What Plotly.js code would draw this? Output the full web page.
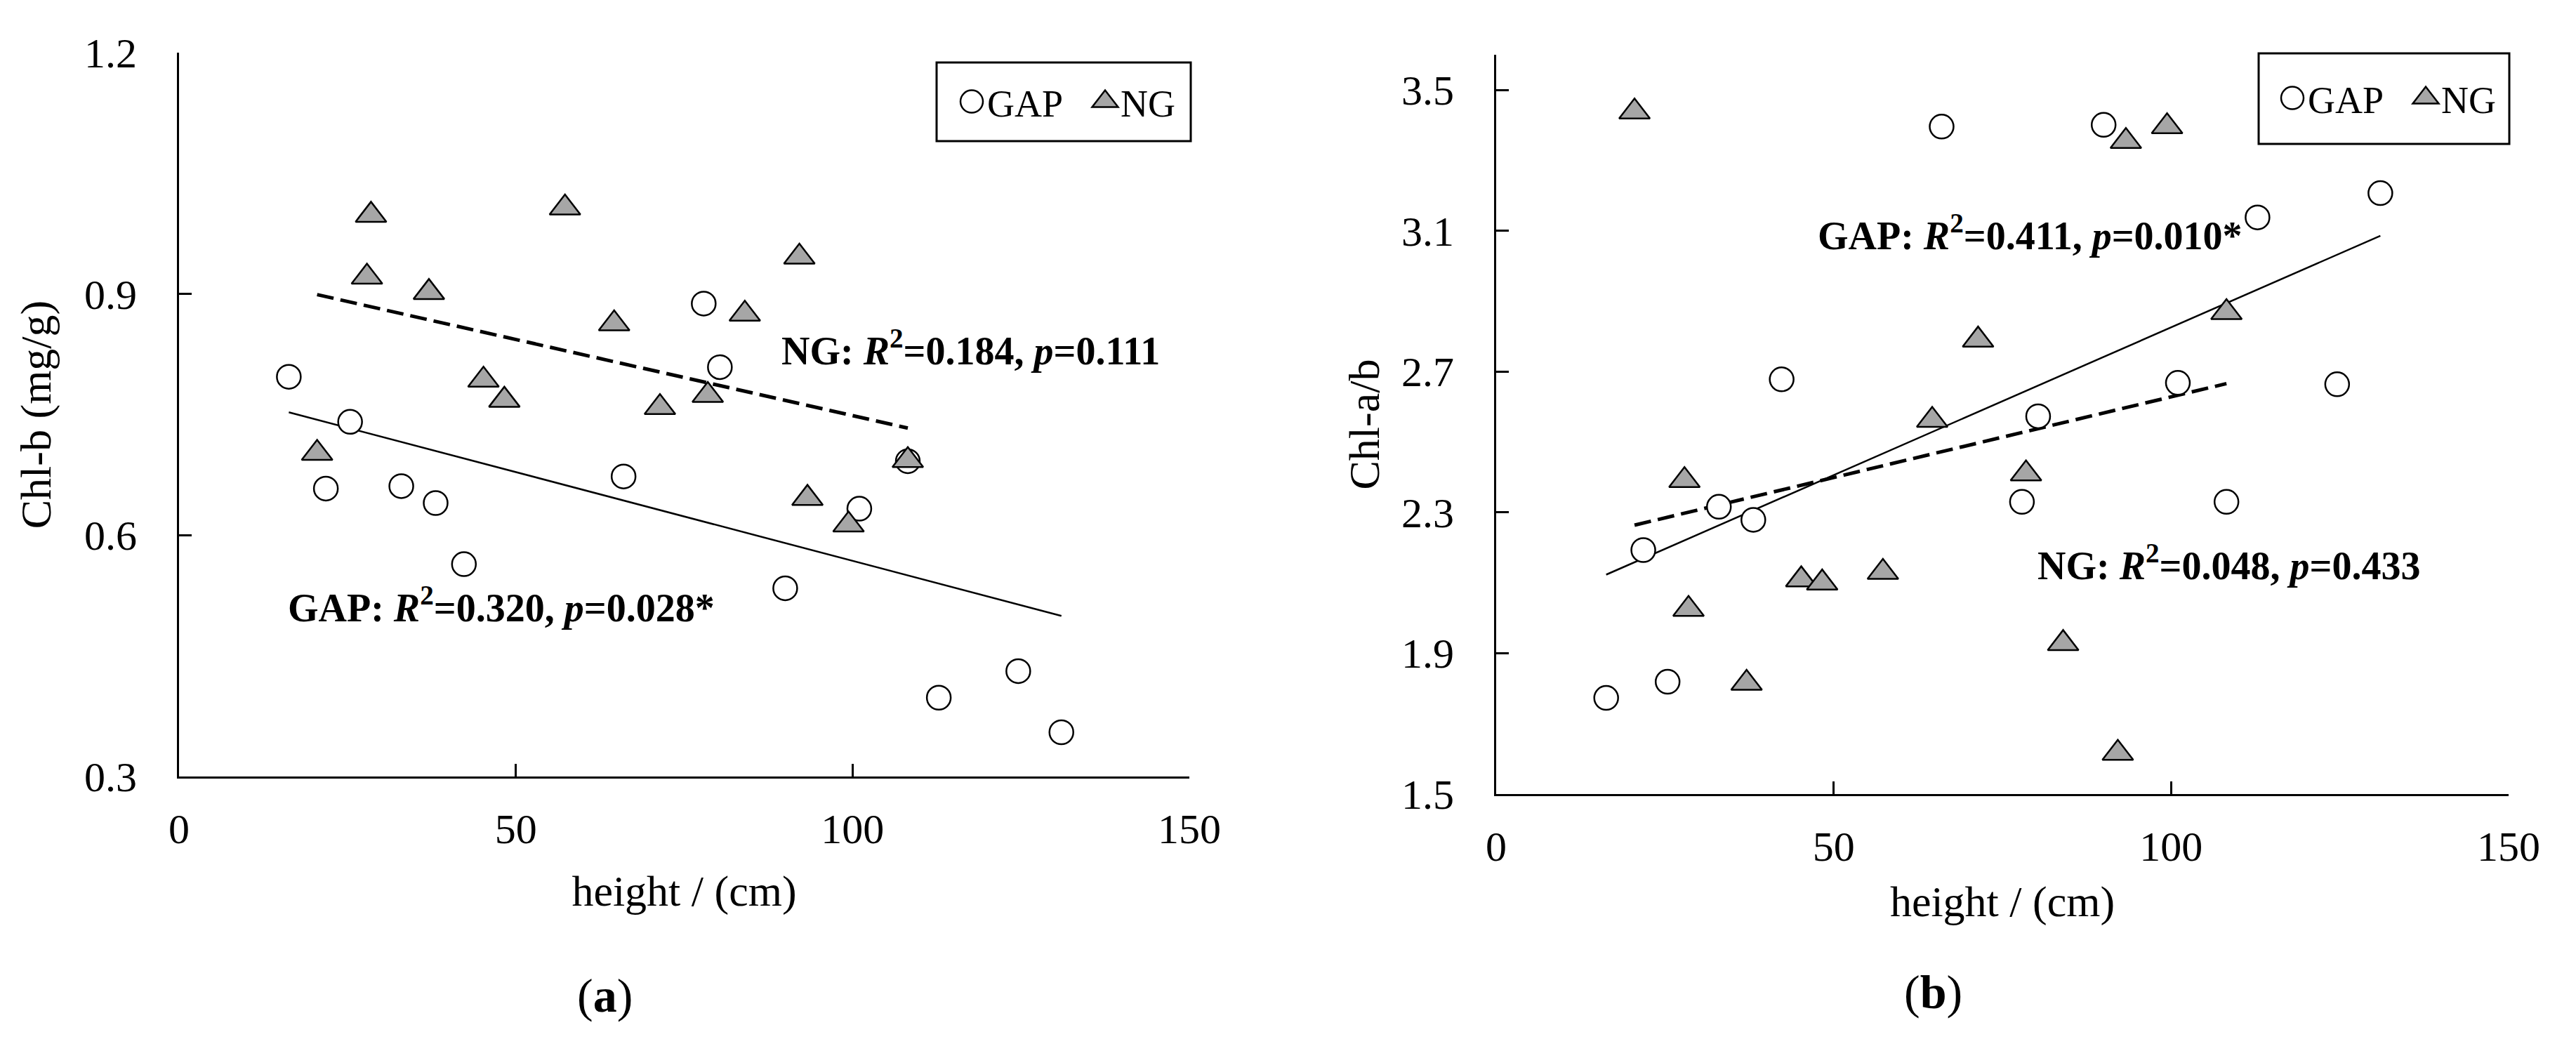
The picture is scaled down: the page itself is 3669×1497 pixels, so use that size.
<!DOCTYPE html>
<html><head><meta charset="utf-8">
<script src="https://cdn.plot.ly/plotly-3.0.1.min.js"></script>
<style>html,body{margin:0;padding:0;background:#fff}</style>
</head><body><div id="chart" style="width:3669px;height:1497px"></div>
<script>
// ---- data ----
const gapHeight = [16.3, 21.8, 25.4, 33.0, 38.1, 42.3, 66.0, 77.9, 80.3, 90.0, 101.0, 108.2, 112.8, 124.6, 131.0];
const gapChlB   = [0.797, 0.658, 0.741, 0.661, 0.640, 0.564, 0.673, 0.888, 0.809, 0.534, 0.633, 0.692, 0.398, 0.431, 0.355];
const gapChlAB  = [1.773, 2.193, 1.819, 2.316, 2.279, 2.678, 3.396, 2.330, 2.573, 3.401, 2.668, 2.330, 3.138, 2.664, 3.207];
const ngHeight  = [20.5, 27.9, 28.5, 37.1, 45.2, 48.3, 57.3, 64.6, 71.4, 78.5, 84.0, 92.1, 93.3, 99.4, 108.2];
const ngChlB    = [0.702, 0.921, 0.998, 0.902, 0.793, 0.768, 1.007, 0.863, 0.759, 0.774, 0.875, 0.946, 0.646, 0.613, 0.693];
const ngChlAB   = [3.438, 2.391, 2.025, 1.815, 2.109, 2.100, 2.130, 2.562, 2.790, 2.410, 1.928, 1.616, 3.354, 3.396, 2.868];
const seriesNames = ['GAP', 'NG'];
const xTitle = 'height / (cm)';
const yTitles = ['Chl-b (mg/g)', 'Chl-a/b'];
const panelLabels = ['(<b>a</b>)', '(<b>b</b>)'];
const statsA = ['NG: <i>R</i><sup>2</sup>=0.184, <i>p</i>=0.111', 'GAP: <i>R</i><sup>2</sup>=0.320, <i>p</i>=0.028*'];
const statsB = ['GAP: <i>R</i><sup>2</sup>=0.411, <i>p</i>=0.010*', 'NG: <i>R</i><sup>2</sup>=0.048, <i>p</i>=0.433'];

// least-squares fit over the data range
function fit(x, y) {
  const n = x.length;
  const mx = x.reduce((a, b) => a + b, 0) / n;
  const my = y.reduce((a, b) => a + b, 0) / n;
  let sxy = 0, sxx = 0;
  for (let i = 0; i < n; i++) { sxy += (x[i] - mx) * (y[i] - my); sxx += (x[i] - mx) ** 2; }
  const b = sxy / sxx, a = my - b * mx;
  const x0 = Math.min(...x), x1 = Math.max(...x);
  return { x: [x0, x1], y: [a + b * x0, a + b * x1] };
}

const FONT = 'Liberation Serif, Times New Roman, serif';
const W = 3669, H = 1497;
const gapMarker = { symbol: 'circle', size: 34, color: '#ffffff', line: { color: '#000000', width: 2.5 } };
const ngMarker = { symbol: 'triangle-up', size: 38, color: '#a6a6a6', line: { color: '#000000', width: 2.5 } };

function panelTraces(xa, ya, gY, nY, legendId) {
  const gf = fit(gapHeight, gY), nf = fit(ngHeight, nY);
  return [
    { x: gf.x, y: gf.y, xaxis: xa, yaxis: ya, mode: 'lines', line: { color: '#000', width: 2.5 }, showlegend: false, hoverinfo: 'skip' },
    { x: nf.x, y: nf.y, xaxis: xa, yaxis: ya, mode: 'lines', line: { color: '#000', width: 5, dash: '24px,10px' }, showlegend: false, hoverinfo: 'skip' },
    { x: gapHeight, y: gY, xaxis: xa, yaxis: ya, mode: 'markers', name: seriesNames[0], marker: gapMarker, legend: legendId, cliponaxis: false },
    { x: ngHeight, y: nY, xaxis: xa, yaxis: ya, mode: 'markers', name: seriesNames[1], marker: ngMarker, legend: legendId, cliponaxis: false }
  ];
}

const data = [
  ...panelTraces('x', 'y', gapChlB, ngChlB, 'legend'),
  ...panelTraces('x2', 'y2', gapChlAB, ngChlAB, 'legend2')
];

const axisCommon = {
  showline: true, linecolor: '#000', linewidth: 3, mirror: false,
  ticks: 'inside', ticklen: 18, tickwidth: 3, tickcolor: '#000',
  showgrid: false, zeroline: false, fixedrange: true,
  tickfont: { family: FONT, size: 60, color: '#000' }
};
const titleFont = { family: FONT, size: 62, color: '#000' };
const xCommon = Object.assign({}, axisCommon, { range: [0, 150], tick0: 0, dtick: 50, ticklabelstandoff: 20 });

const legendCommon = {
  orientation: 'h', bgcolor: 'rgba(0,0,0,0)', borderwidth: 0, entrywidth: 145,
  font: { family: FONT, size: 54, color: '#000' }, xanchor: 'left', yanchor: 'middle'
};

const annFont = { family: FONT, size: 56, color: '#000' };
function ann(text, px, py, anchor, font) {
  return { text: text, xref: 'paper', yref: 'paper', x: px / W, y: 1 - py / H,
           xanchor: anchor, yanchor: 'middle', showarrow: false, font: font || annFont };
}
function box(x0, x1, y0, y1) {
  return { type: 'rect', xref: 'paper', yref: 'paper', x0: x0 / W, x1: x1 / W, y0: 1 - y1 / H, y1: 1 - y0 / H,
           line: { color: '#000', width: 3 }, fillcolor: 'rgba(0,0,0,0)', layer: 'above' };
}

const layout = {
  width: W, height: H, margin: { l: 0, r: 0, t: 0, b: 0 },
  paper_bgcolor: '#fff', plot_bgcolor: '#fff',
  font: { family: FONT, color: '#000' },
  xaxis: Object.assign({}, xCommon, { domain: [255 / W, 1694 / W], anchor: 'y',
    title: { text: xTitle, font: titleFont, standoff: 34 } }),
  yaxis: Object.assign({}, axisCommon, {
    domain: [(H - 1106) / H, (H - 75) / H], anchor: 'x',
    range: [0.3, 1.2], tick0: 0.3, dtick: 0.3, tickformat: '.1f', ticklabelstandoff: 45,
    title: { text: yTitles[0], font: titleFont, standoff: 28 }
  }),
  xaxis2: Object.assign({}, xCommon, { domain: [2131 / W, 3573 / W], anchor: 'y2',
    title: { text: xTitle, font: titleFont, standoff: 24 } }),
  yaxis2: Object.assign({}, axisCommon, {
    domain: [(H - 1131) / H, (H - 78) / H], anchor: 'x2',
    range: [1.5, 3.6], tick0: 1.5, dtick: 0.4, tickformat: '.1f', ticklabelstandoff: 45,
    title: { text: yTitles[1], font: titleFont, standoff: 12 }
  }),
  legend: Object.assign({}, legendCommon, { x: 1366 / W, y: 1 - 145 / H }),
  legend2: Object.assign({}, legendCommon, { x: 3247 / W, y: 1 - 140 / H }),
  shapes: [box(1334, 1696, 89, 201), box(3217, 3574, 76, 205)],
  annotations: [
    ann('<b>' + statsA[0] + '</b>', 1111, 495, 'left'),
    ann('<b>' + statsA[1] + '</b>', 408, 861, 'left'),
    ann('<b>' + statsB[0] + '</b>', 2587, 331, 'left'),
    ann('<b>' + statsB[1] + '</b>', 2900, 801, 'left'),
    ann(panelLabels[0], 861, 1418, 'center', { family: FONT, size: 68, color: '#000' }),
    ann(panelLabels[1], 2753, 1413, 'center', { family: FONT, size: 68, color: '#000' })
  ]
};

// legend symbols are capped at 16px by Plotly; enlarge them to the reference size
function enlargeLegendSymbols(gd) {
  gd.querySelectorAll('.legendpoints path.scatterpts').forEach(function (p) {
    const t = p.getAttribute('transform') || '';
    if (t.indexOf('scale') >= 0) return;
    const m = /translate\(\s*([-\d.]+)[ ,]+([-\d.]+)\s*\)/.exec(t);
    const tx = m ? parseFloat(m[1]) : 20, ty = m ? parseFloat(m[2]) : 0;
    p.setAttribute('transform', 'translate(' + (tx - 2) + ',' + ty + ') scale(2)');
    p.style.vectorEffect = 'non-scaling-stroke';
  });
}

Plotly.newPlot('chart', data, layout, { staticPlot: true, displayModeBar: false }).then(enlargeLegendSymbols);
</script>
</body></html>
